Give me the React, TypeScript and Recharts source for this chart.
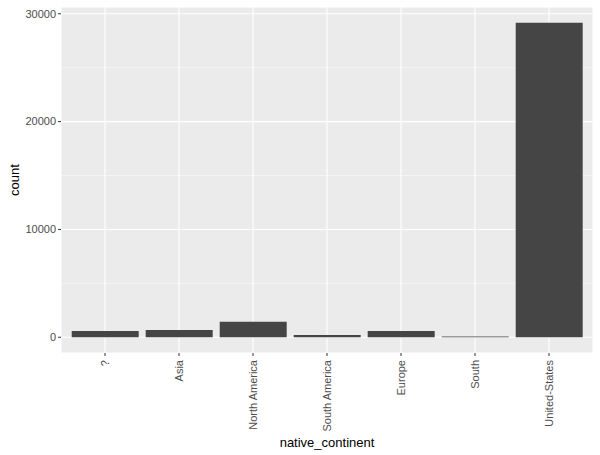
import React from 'react';
import { BarChart, Bar, XAxis, YAxis, CartesianGrid, Label } from 'recharts';

const categories = ['?', 'Asia', 'North America', 'South America', 'Europe', 'South', 'United-States'];
const counts = [583, 671, 1450, 200, 580, 80, 29170];
const yTicks = [0, 10000, 20000, 30000];
const yMinor = [5000, 15000, 25000];

const data = categories.map((c, i) => ({ native_continent: c, count: counts[i] }));

const maxVal = Math.max(...counts);
const pad = maxVal * 0.05;
const FONT = '"Liberation Sans", Arial, Helvetica, sans-serif';

const XTick = (props: any) => {
  const { x, y, payload } = props;
  return (
    <text
      x={0}
      y={0}
      transform={`translate(${x},${y + 2}) rotate(-90)`}
      textAnchor="end"
      dy="0.35em"
      fontSize={11}
      fill="#4D4D4D"
      stroke="none"
      fontFamily={FONT}
    >
      {payload.value}
    </text>
  );
};

const YTick = (props: any) => {
  const { x, y, payload } = props;
  return (
    <text
      x={x}
      y={y}
      textAnchor="end"
      dy="0.35em"
      fontSize={11}
      fill="#4D4D4D"
      stroke="none"
      fontFamily={FONT}
    >
      {payload.value}
    </text>
  );
};

export default function App() {
  return (
    <div style={{ position: 'absolute', left: 0, top: 0, background: '#fff' }}>
      <BarChart
        width={600}
        height={455}
        data={data}
        margin={{ top: 7, right: 7, bottom: 0, left: 0 }}
        barCategoryGap="5%"
      >
        <CartesianGrid fill="#EBEBEB" stroke="#FFFFFF" strokeWidth={1.1} />
        <CartesianGrid
          vertical={false}
          horizontalValues={yMinor}
          stroke="#FFFFFF"
          strokeWidth={0.5}
          fill="none"
        />
        <XAxis
          dataKey="native_continent"
          type="category"
          padding={{ left: 7, right: 7 }}
          axisLine={false}
          tickLine={{ stroke: '#333333' }}
          tickSize={3}
          height={102}
          interval={0}
          tick={<XTick />}
        >
          <Label
            content={(p: any) => {
              const vb = p.viewBox;
              return (
                <text
                  x={vb.x + vb.width / 2}
                  y={442}
                  textAnchor="middle"
                  dy="0.35em"
                  fontSize={13}
                  fill="#000"
                  fontFamily={FONT}
                >
                  native_continent
                </text>
              );
            }}
          />
        </XAxis>
        <YAxis
          type="number"
          domain={[-pad, maxVal + pad]}
          ticks={yTicks}
          allowDataOverflow
          axisLine={false}
          tickLine={{ stroke: '#333333' }}
          tickSize={3}
          tickMargin={2}
          width={61}
          tick={<YTick />}
        >
          <Label
            content={(p: any) => {
              const vb = p.viewBox;
              const cy = vb.y + vb.height / 2;
              return (
                <text
                  x={14}
                  y={cy}
                  transform={`rotate(-90, 14, ${cy})`}
                  textAnchor="middle"
                  dy="0.35em"
                  fontSize={13}
                  fill="#000"
                  fontFamily={FONT}
                >
                  count
                </text>
              );
            }}
          />
        </YAxis>
        <Bar dataKey="count" fill="#454545" isAnimationActive={false} />
      </BarChart>
    </div>
  );
}
